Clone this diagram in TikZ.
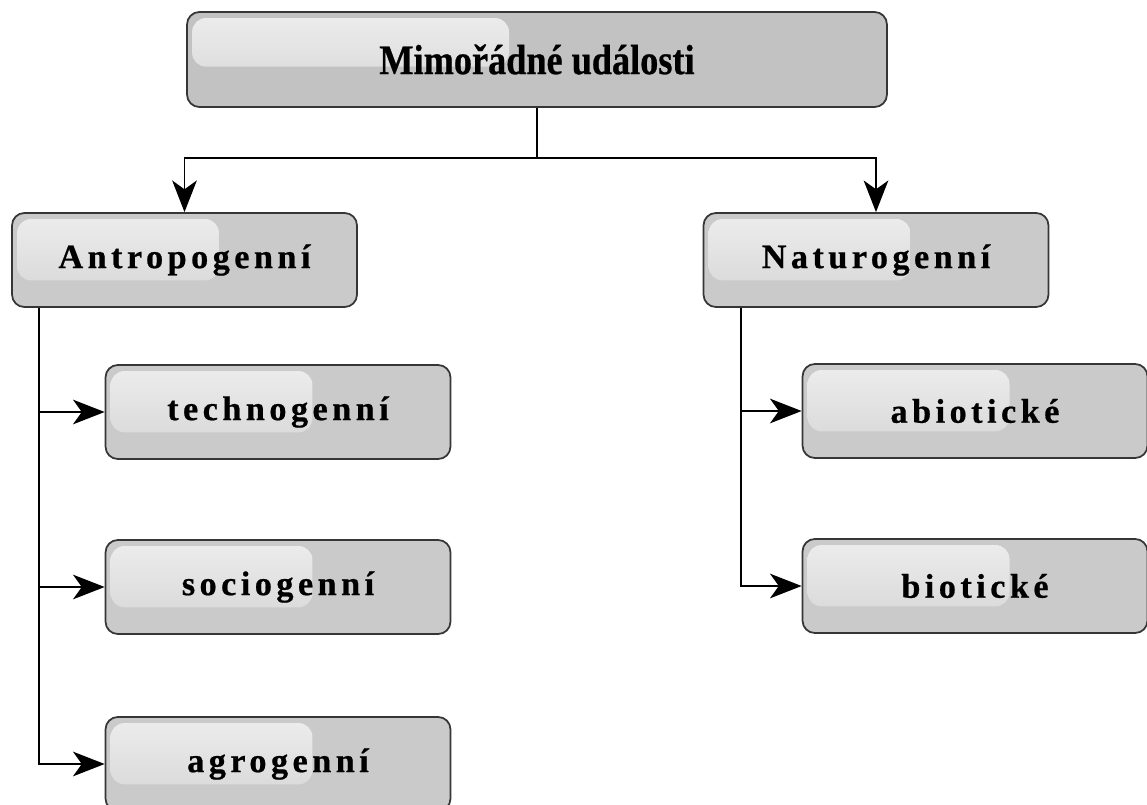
\documentclass[tikz,border=0pt]{standalone}
\usepackage{fontspec}
\setmainfont{Liberation Serif}
\usetikzlibrary{arrows.meta,calc,positioning}
\definecolor{boxfill}{HTML}{CACACA}
\definecolor{topfill}{HTML}{C2C2C2}
\definecolor{boxline}{HTML}{363636}
\definecolor{glossfill}{HTML}{EDEDED}

\tikzset{
  glossy/.style={draw=boxline,line width=1pt,rounded corners=7pt,fill=boxfill,
    path picture={
      \fill[top color=glossfill,bottom color=boxfill!70!glossfill,rounded corners=8pt]
        ($(path picture bounding box.north west)+(0.1cm,-0.12cm)$) rectangle
        ($(path picture bounding box.north west)!#1!(path picture bounding box.south east)+(0,-0.22cm)$);
    }},
  glossy/.default=0.6,
  catbox/.style={glossy,minimum width=6.9cm,minimum height=1.88cm,
    font=\fontsize{19.5}{22}\selectfont\bfseries\addfontfeature{LetterSpace=13,FakeBold=0.6}},
  link/.style={line width=1.1pt,-{Stealth[length=18pt,width=14pt,inset=5pt]}}
}

\begin{document}
\begin{tikzpicture}[x=0.02cm,y=-0.02cm]
  \useasboundingbox (0,0) rectangle (1147,805);
  \node[glossy=0.46,fill=topfill,minimum width=14cm,minimum height=1.9cm,
    font=\fontsize{24}{28}\selectfont\bfseries\addfontfeature{FakeStretch=0.86,FakeBold=0.6}] (top) at (537,59.5) {Mimořádné události};
  \node[catbox] (antro) at (184.5,260) {Antropogenní};
  \node[catbox] (natur) at (876,260) {Naturogenní};
  \node[catbox] (techno) at (278,412) {technogenní};
  \node[catbox] (socio) at (278,587) {sociogenní};
  \node[catbox] (agro) at (278,764) {agrogenní};
  \node[catbox] (abio) at (975,411) {abiotické};
  \node[catbox] (bio) at (975,586) {biotické};
  \coordinate (split) at (537,158);
  \coordinate (aspine) at ([xshift=0.56cm]antro.south west);
  \coordinate (nspine) at ([xshift=0.76cm]natur.south west);
  \draw[line width=1.1pt] (top.south) -- (split);
  \draw[link] (split) -| (antro.north);
  \draw[link] (split) -| (natur.north);
  \draw[link] (aspine) |- (techno.west);
  \draw[link] (aspine) |- (socio.west);
  \draw[link] (aspine) |- (agro.west);
  \draw[link] (nspine) |- (abio.west);
  \draw[link] (nspine) |- (bio.west);
\end{tikzpicture}
\end{document}
